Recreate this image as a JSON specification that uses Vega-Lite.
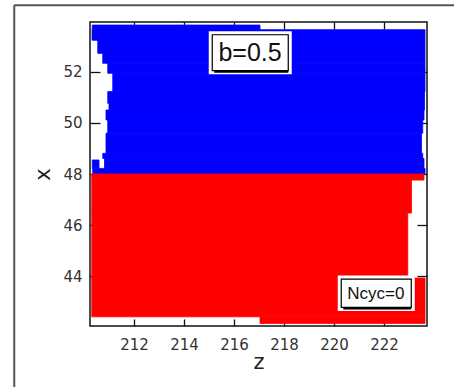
{
  "$schema": "https://vega.github.io/schema/vega-lite/v6.json",
  "width": 337,
  "height": 304,
  "autosize": {"type": "none"},
  "padding": {"left": 90, "top": 22, "right": 27, "bottom": 61},
  "background": "white",
  "config": {
    "view": {"stroke": "#111", "strokeWidth": 1.5},
    "axis": {
      "grid": false,
      "domain": false,
      "tickColor": "#111",
      "tickWidth": 1.3,
      "labelFont": "DejaVu Sans",
      "labelFontSize": 15,
      "labelColor": "#333",
      "titleFont": "DejaVu Sans",
      "titleFontSize": 21,
      "titleFontWeight": "normal",
      "titleColor": "#222"
    }
  },
  "datasets": {
    "regions": [
      {"group": "upper", "z_lo": 210.33, "z_hi": 217.04, "x_lo": 53.25, "x_hi": 53.84},
      {"group": "upper", "z_lo": 210.33, "z_hi": 223.64, "x_lo": 53.25, "x_hi": 53.66},
      {"group": "upper", "z_lo": 210.55, "z_hi": 223.64, "x_lo": 52.73, "x_hi": 53.25},
      {"group": "upper", "z_lo": 210.75, "z_hi": 223.64, "x_lo": 52.34, "x_hi": 52.73},
      {"group": "upper", "z_lo": 210.95, "z_hi": 223.64, "x_lo": 51.95, "x_hi": 52.34},
      {"group": "upper", "z_lo": 211.15, "z_hi": 223.64, "x_lo": 51.23, "x_hi": 51.95},
      {"group": "upper", "z_lo": 210.95, "z_hi": 223.62, "x_lo": 50.77, "x_hi": 51.23},
      {"group": "upper", "z_lo": 211.0, "z_hi": 223.62, "x_lo": 50.51, "x_hi": 50.77},
      {"group": "upper", "z_lo": 210.88, "z_hi": 223.6, "x_lo": 50.12, "x_hi": 50.51},
      {"group": "upper", "z_lo": 210.95, "z_hi": 223.55, "x_lo": 49.6, "x_hi": 50.12},
      {"group": "upper", "z_lo": 210.88, "z_hi": 223.5, "x_lo": 48.81, "x_hi": 49.6},
      {"group": "upper", "z_lo": 210.75, "z_hi": 223.55, "x_lo": 48.61, "x_hi": 48.81},
      {"group": "upper", "z_lo": 210.82, "z_hi": 223.6, "x_lo": 48.22, "x_hi": 48.61},
      {"group": "upper", "z_lo": 210.33, "z_hi": 210.6, "x_lo": 48.22, "x_hi": 48.55},
      {"group": "upper", "z_lo": 210.35, "z_hi": 223.64, "x_lo": 48.0, "x_hi": 48.22},
      {"group": "lower", "z_lo": 210.31, "z_hi": 223.6, "x_lo": 47.76, "x_hi": 48.0},
      {"group": "lower", "z_lo": 210.31, "z_hi": 223.1, "x_lo": 46.47, "x_hi": 47.76},
      {"group": "lower", "z_lo": 210.31, "z_hi": 222.95, "x_lo": 43.92, "x_hi": 46.47},
      {"group": "lower", "z_lo": 210.31, "z_hi": 223.64, "x_lo": 42.4, "x_hi": 43.92},
      {"group": "lower", "z_lo": 217.04, "z_hi": 223.64, "x_lo": 42.14, "x_hi": 42.4}
    ],
    "boxes": [
      {"label": "b=0.5", "z_lo": 215.13, "z_hi": 218.17, "x_lo": 52.05, "x_hi": 53.46, "z": 216.64, "x": 52.76, "size": 25},
      {"label": "Ncyc=0", "z_lo": 220.29, "z_hi": 223.09, "x_lo": 42.77, "x_hi": 43.88, "z": 221.67, "x": 43.29, "size": 17}
    ],
    "frame": [
      {"z_a": 207.21, "z_b": 207.21, "x_a": 39.6, "x_b": 54.62},
      {"z_a": 207.21, "z_b": 225.1, "x_a": 54.62, "x_b": 54.62}
    ]
  },
  "layer": [
    {
      "data": {"name": "regions"},
      "mark": {"type": "rect", "strokeWidth": 0.8},
      "encoding": {
        "x": {"field": "z_lo", "type": "quantitative", "scale": {"domain": [210.24, 223.72], "nice": false, "zero": false},
              "axis": {"orient": "bottom", "values": [212, 214, 216, 218, 220, 222], "title": "z", "ticks": false, "labelPadding": 11, "titlePadding": -1}},
        "x2": {"field": "z_hi"},
        "y": {"field": "x_lo", "type": "quantitative", "scale": {"domain": [42.04, 53.96], "nice": false, "zero": false},
              "axis": {"orient": "left", "values": [44, 46, 48, 50, 52], "title": "x", "ticks": false, "labelPadding": 8, "titlePadding": 9}},
        "y2": {"field": "x_hi"},
        "color": {"field": "group", "type": "nominal", "scale": {"domain": ["upper", "lower"], "range": ["#0000ff", "#ff0000"]}, "legend": null},
        "stroke": {"field": "group", "type": "nominal", "scale": {"domain": ["upper", "lower"], "range": ["#0000ff", "#ff0000"]}, "legend": null}
      }
    },
    {
      "data": {"name": "frame"},
      "mark": {"type": "rule", "clip": false, "color": "#555", "strokeWidth": 2},
      "encoding": {
        "x": {"field": "z_a", "type": "quantitative",
              "axis": {"orient": "top", "values": [212, 214, 216, 218, 220, 222], "labels": false, "title": null, "ticks": true, "tickSize": 7, "offset": -7}},
        "x2": {"field": "z_b"},
        "y": {"field": "x_a", "type": "quantitative",
              "axis": {"orient": "right", "values": [44, 46, 48, 50, 52], "labels": false, "title": null, "ticks": true, "tickSize": 10, "offset": -10}},
        "y2": {"field": "x_b"}
      }
    },
    {
      "data": {"name": "boxes"},
      "mark": {"type": "rect", "fill": "white", "stroke": "white", "strokeWidth": 7},
      "encoding": {
        "x": {"field": "z_lo", "type": "quantitative",
              "axis": {"orient": "bottom", "values": [212, 214, 216, 218, 220, 222], "labels": false, "title": null, "ticks": true, "tickSize": 7, "offset": -7}},
        "x2": {"field": "z_hi"},
        "y": {"field": "x_lo", "type": "quantitative",
              "axis": {"orient": "left", "values": [44, 46, 48, 50, 52], "labels": false, "title": null, "ticks": true, "tickSize": 10, "offset": -10}},
        "y2": {"field": "x_hi"}
      }
    },
    {
      "data": {"name": "boxes"},
      "mark": {"type": "rect", "fill": "black", "xOffset": 2, "yOffset": 2},
      "encoding": {
        "x": {"field": "z_lo", "type": "quantitative", "axis": null},
        "x2": {"field": "z_hi"},
        "y": {"field": "x_lo", "type": "quantitative", "axis": null},
        "y2": {"field": "x_hi"}
      }
    },
    {
      "data": {"name": "boxes"},
      "mark": {"type": "rect", "fill": "white", "stroke": "black", "strokeWidth": 1.2},
      "encoding": {
        "x": {"field": "z_lo", "type": "quantitative", "axis": null},
        "x2": {"field": "z_hi"},
        "y": {"field": "x_lo", "type": "quantitative", "axis": null},
        "y2": {"field": "x_hi"}
      }
    },
    {
      "data": {"name": "boxes"},
      "mark": {"type": "text", "font": "Liberation Sans", "color": "#111", "baseline": "middle", "align": "center"},
      "encoding": {
        "x": {"field": "z", "type": "quantitative", "axis": null},
        "y": {"field": "x", "type": "quantitative", "axis": null},
        "text": {"field": "label"},
        "size": {"field": "size", "type": "quantitative", "scale": null}
      }
    }
  ],
  "resolve": {"axis": {"x": "independent", "y": "independent"}}
}
